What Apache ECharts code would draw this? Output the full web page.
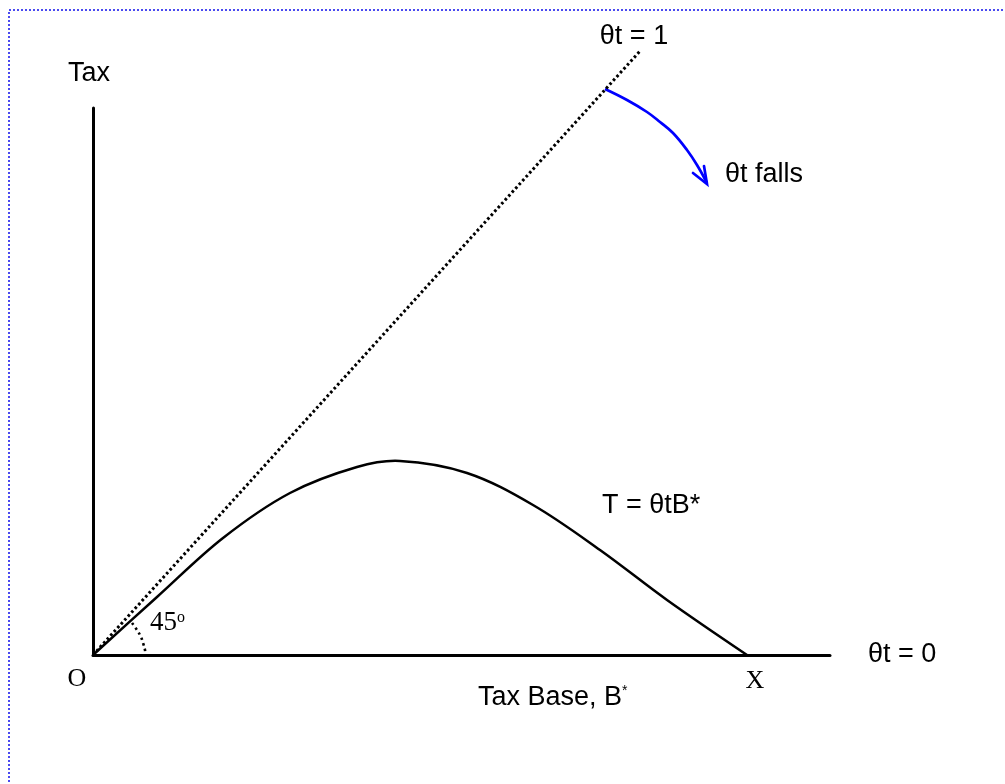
<!DOCTYPE html>
<html>
<head>
<meta charset="utf-8">
<script src="https://cdn.jsdelivr.net/npm/echarts@6/dist/echarts.min.js"></script>
<style>
    html, body { margin: 0; padding: 0; background: #fff; }
    #main { width: 1005px; height: 784px; }
</style>
</head>
<body>
<div id="main"></div>
<script type="text/javascript">
    // all values are in diagram units: x to the right of O, y above O
    var taxBaseX = [0, 64, 130, 197, 264, 307, 374, 440, 507, 574, 654];
    var taxRevenueY = [0, 58, 117, 162, 188, 194, 182, 150, 105, 55, 0];

    // theta t = 1 line (45 degree line)
    var fullTaxX = [0, 548];
    var fullTaxY = [0, 605];

    // dotted arc marking the 45 degree angle
    var angleArcX = [39, 44, 48, 50, 52, 52];
    var angleArcY = [32, 25, 18, 12, 5, 0];

    // blue arrow "theta t falls"
    var fallArrowX = [512, 534, 554, 567, 580, 594, 604, 614];
    var fallArrowY = [566, 555, 543, 533, 522, 505, 490, 472];
    var arrowHeadX = [600, 614, 611];
    var arrowHeadY = [482, 471, 489];

    function pairs(xs, ys) {
        var out = [];
        for (var i = 0; i < xs.length; i++) {
            out.push([xs[i], ys[i]]);
        }
        return out;
    }

    var sans = "'Liberation Sans', Arial, sans-serif";
    var serif = "'Liberation Serif', 'Times New Roman', serif";

    var myChart = echarts.init(document.getElementById('main'));

    // one smooth polyline through all points of a curve, placed by the axes
    function curveSeries(name, xs, ys, smooth, lineStyle) {
        return {
            name: name,
            type: 'custom',
            silent: true,
            clip: false,
            data: pairs(xs, ys),
            renderItem: function (params, api) {
                if (params.dataIndex !== 0) {
                    return;
                }
                var pts = [];
                for (var i = 0; i < xs.length; i++) {
                    pts.push(api.coord([xs[i], ys[i]]));
                }
                return {
                    type: 'polyline',
                    shape: { points: pts, smooth: smooth },
                    style: lineStyle
                };
            }
        };
    }

    var option = {
        animation: false,
        backgroundColor: '#fff',
        grid: {
            left: 93,
            right: 175,
            top: 108,
            bottom: 129
        },
        xAxis: {
            type: 'value',
            min: 0,
            max: 737,
            axisLine: { show: true, lineStyle: { color: '#000', width: 3 } },
            axisTick: { show: false },
            axisLabel: { show: false },
            splitLine: { show: false }
        },
        yAxis: {
            type: 'value',
            min: 0,
            max: 547,
            axisLine: { show: true, lineStyle: { color: '#000', width: 3 } },
            axisTick: { show: false },
            axisLabel: { show: false },
            splitLine: { show: false }
        },
        series: [
            {
                name: 'theta t = 1',
                type: 'line',
                clip: false,
                silent: true,
                symbol: 'none',
                data: pairs(fullTaxX, fullTaxY),
                lineStyle: { color: '#000', width: 3, type: [2.6, 2.6] }
            },
            curveSeries('T', taxBaseX, taxRevenueY, 0.35,
                { fill: null, stroke: '#000', lineWidth: 2.5 }),
            curveSeries('angle', angleArcX, angleArcY, 0.4,
                { fill: null, stroke: '#000', lineWidth: 2.6, lineDash: [2.4, 3.4] }),
            curveSeries('falls', fallArrowX, fallArrowY, 0.4,
                { fill: null, stroke: '#0000ff', lineWidth: 2.7 }),
            {
                name: 'falls head',
                type: 'line',
                clip: false,
                silent: true,
                symbol: 'none',
                data: pairs(arrowHeadX, arrowHeadY),
                lineStyle: { color: '#0000ff', width: 2.7, cap: 'round', join: 'miter' }
            }
        ],
        graphic: [
            {
                type: 'rect',
                silent: true,
                shape: { x: 9, y: 10, width: 1010, height: 800 },
                style: { fill: 'none', stroke: '#4a4af0', lineWidth: 2, lineDash: [2, 2] }
            },
            {
                type: 'text', x: 68, y: 74,
                style: { text: 'Tax', font: '27px ' + sans, fill: '#000', align: 'left', verticalAlign: 'middle' }
            },
            {
                type: 'text', x: 634, y: 37,
                style: { text: 'θt = 1', font: '27px ' + sans, fill: '#000', align: 'center', verticalAlign: 'middle' }
            },
            {
                type: 'text', x: 725, y: 175,
                style: { text: 'θt falls', font: '27px ' + sans, fill: '#000', align: 'left', verticalAlign: 'middle' }
            },
            {
                type: 'text', x: 602, y: 506,
                style: { text: 'T = θtB*', font: '27px ' + sans, fill: '#000', align: 'left', verticalAlign: 'middle' }
            },
            {
                type: 'text', x: 478, y: 698,
                style: {
                    text: '{a|Tax Base, B}{s|*}',
                    align: 'left',
                    verticalAlign: 'middle',
                    rich: {
                        a: { font: '27px ' + sans, fill: '#000' },
                        s: { font: '14px ' + sans, fill: '#000', verticalAlign: 'top' }
                    }
                }
            },
            {
                type: 'text', x: 868, y: 655,
                style: { text: 'θt = 0', font: '27px ' + sans, fill: '#000', align: 'left', verticalAlign: 'middle' }
            },
            {
                type: 'text', x: 77, y: 679,
                style: { text: 'O', font: '26px ' + serif, fill: '#000', align: 'center', verticalAlign: 'middle' }
            },
            {
                type: 'text', x: 755, y: 681,
                style: { text: 'X', font: '26px ' + serif, fill: '#000', align: 'center', verticalAlign: 'middle' }
            },
            {
                type: 'text', x: 150, y: 623,
                style: {
                    text: '{a|45}{s|o}',
                    align: 'left',
                    verticalAlign: 'middle',
                    rich: {
                        a: { font: '27px ' + serif, fill: '#000' },
                        s: { font: '16px ' + serif, fill: '#000', verticalAlign: 'top' }
                    }
                }
            }
        ]
    };

    myChart.setOption(option);
</script>
</body>
</html>
